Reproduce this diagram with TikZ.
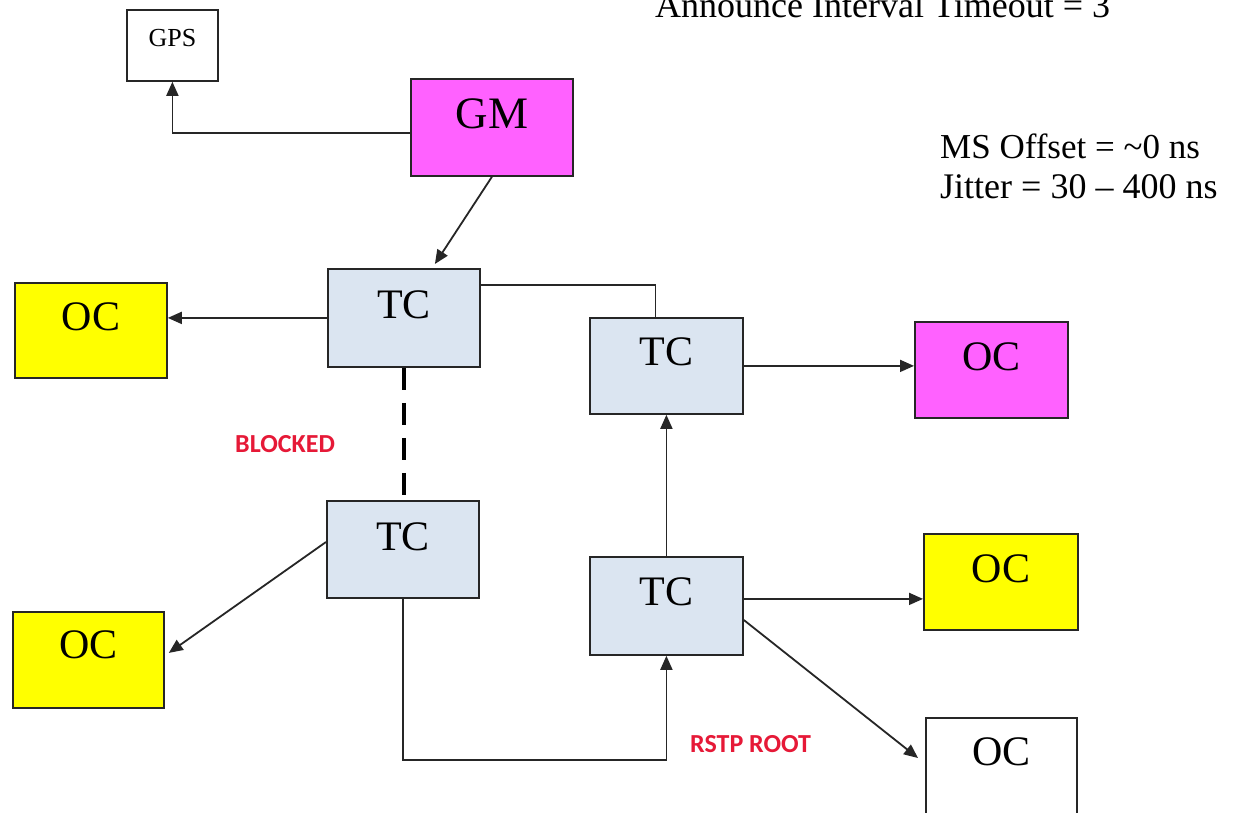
\documentclass[tikz,border=0pt]{standalone}
\usepackage{fontspec}
\setmainfont{Liberation Serif}
\newfontfamily\carlito{Carlito}
\usetikzlibrary{arrows.meta,calc}
\definecolor{tcblue}{HTML}{DBE5F1}
\definecolor{gmpink}{HTML}{FF61FF}
\definecolor{ocyellow}{HTML}{FFFF00}
\definecolor{lblred}{RGB}{230,25,55}
\tikzset{
  box/.style={draw=black!85, line width=1.8pt, inner sep=0pt, anchor=north west},
  tcbox/.style={box, fill=tcblue, font=\fontsize{42}{42}\selectfont},
  ocbox/.style={box, font=\fontsize{42}{42}\selectfont},
  conn/.style={line width=1.8pt, draw=black!85},
  arr/.style={conn, -{Triangle[length=14pt,width=12pt]}},
  lbl/.style={text=lblred, font=\carlito\bfseries\fontsize{26}{26}\selectfont, anchor=base west, inner sep=0pt},
  note/.style={font=\fontsize{36}{36}\selectfont, anchor=base west, inner sep=0pt}
}
\begin{document}
\begin{tikzpicture}[x=1pt,y=-1pt]
\clip (0,0) rectangle (1236,812);
\fill[white] (0,0) rectangle (1236,812);

% boxes
\node[box, font=\fontsize{26}{26}\selectfont, minimum width=91pt, text height=37pt, text depth=34pt] (gps) at (126,9) {GPS};
\node[box, fill=gmpink, font=\fontsize{45}{45}\selectfont, minimum width=162pt, text height=50pt, text depth=47pt] (gm) at (410,78) {GM};
\node[tcbox, minimum width=152pt, text height=50pt, text depth=48pt] (tc1) at (327,268) {TC};
\node[ocbox, fill=ocyellow, minimum width=152pt, text height=48pt, text depth=47pt] (oc1) at (14,282) {OC};
\node[tcbox, minimum width=153pt, text height=48pt, text depth=48pt] (tc2) at (589,317) {TC};
\node[ocbox, fill=gmpink, minimum width=153pt, text height=49pt, text depth=47pt] (ocm) at (914,321) {OC};
\node[tcbox, minimum width=152pt, text height=50pt, text depth=47pt] (tc3) at (326,500) {TC};
\node[ocbox, fill=ocyellow, minimum width=151pt, text height=47pt, text depth=49pt] (oc2) at (12,611) {OC};
\node[tcbox, minimum width=153pt, text height=49pt, text depth=49pt] (tc4) at (589,556) {TC};
\node[ocbox, fill=ocyellow, minimum width=154pt, text height=49pt, text depth=47pt] (ocy) at (923,533) {OC};
\node[ocbox, fill=white, minimum width=151pt, text height=48pt, text depth=60pt] (ocw) at (925,717) {OC};

% helper coordinates
\coordinate (gmout) at ($(gm.north west)+(0,55)$);
\coordinate (tc1in) at ($(tc1.north)+(31,-4)$);
\coordinate (tc1out) at ($(tc1.north east)+(0,17)$);
\coordinate (tc2in) at ($(tc2.north)+(-11,0)$);
\coordinate (tc3out) at ($(tc3.north west)+(0,42)$);
\coordinate (oc2in) at ($(oc2.east)+(4,-7)$);
\coordinate (tc4outa) at ($(tc4.east)+(0,-7)$);
\coordinate (tc4outb) at ($(tc4.north east)+(0,64)$);
\coordinate (ocwin) at ($(ocw.north west)+(-7,41)$);

% connectors
\draw[arr] (gmout) -| (gps.south);
\draw[arr] (gm.south) -- (tc1in);
\draw[arr] (tc1.west) -- (tc1.west -| oc1.east);
\draw[conn] (tc1out) -| (tc2in);
\draw[arr] (tc2.east) -- (tc2.east -| ocm.west);
\draw[line width=4pt, dash pattern=on 22pt off 13pt] (tc1.south) -- (tc1.south |- tc3.north);
\draw[arr] (tc3out) -- (oc2in);
\draw[arr] (tc3.south) -- ++(0,161) -| (tc4.south);
\draw[arr] (tc4.north) -- (tc2.south);
\draw[arr] (tc4outa) -- (tc4outa -| ocy.west);
\draw[arr] (tc4outb) -- (ocwin);

% labels
\node[lbl] (blocked) at (235,452) {BLOCKED};
\node[lbl] (rstp) at (690,752) {RSTP ROOT};
\node[note] (announce) at (655,17) {Announce Interval Timeout = 3};
\node[note, font=\fontsize{35}{35}\selectfont] (msoff) at (940,158) {MS Offset = \textasciitilde0 ns};
\node[note] (jitter) at (940,198) {Jitter = 30 – 400 ns};
\end{tikzpicture}
\end{document}
